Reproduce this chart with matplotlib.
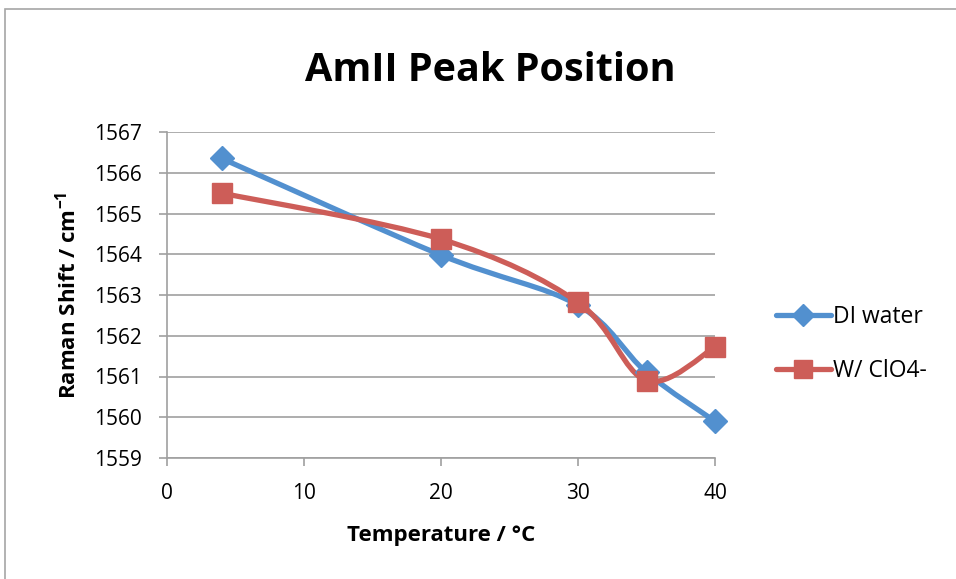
import matplotlib
matplotlib.use("Agg")
import matplotlib.pyplot as plt
import numpy as np
from matplotlib.path import Path
from matplotlib.patches import PathPatch, Rectangle
from matplotlib.lines import Line2D

plt.rcParams['font.family'] = ['Open Sans', 'DejaVu Sans']
plt.rcParams['mathtext.default'] = 'regular'

temperature = [4, 20, 30, 35, 40]
di_water = [1566.35, 1563.98, 1562.75, 1561.1, 1559.9]
clo4 = [1565.5, 1564.37, 1562.82, 1560.9, 1561.72]

x_ticks = [0, 10, 20, 30, 40]
y_ticks = [1559, 1560, 1561, 1562, 1563, 1564, 1565, 1566, 1567]

blue = '#5290CF'
red = '#CD5D58'
grid_gray = '#A0A0A0'


def smooth_path(xs, ys):
    # Excel-like smoothed line: cubic bezier with catmull-rom control points
    pts = np.column_stack((xs, ys)).astype(float)
    n = len(pts)
    verts = [pts[0]]
    codes = [Path.MOVETO]
    for i in range(n - 1):
        p0 = pts[i - 1] if i > 0 else pts[i]
        p1 = pts[i]
        p2 = pts[i + 1]
        p3 = pts[i + 2] if i + 2 < n else pts[i + 1]
        c1 = p1 + (p2 - p0) / 6.0
        c2 = p2 - (p3 - p1) / 6.0
        verts += [c1, c2, p2]
        codes += [Path.CURVE4] * 3
    return Path(verts, codes)


fig = plt.figure(figsize=(9.56, 5.79), dpi=100)
fig.patches.append(Rectangle((5 / 956, -0.1), 1.1, 1 - 9 / 579 + 0.1, transform=fig.transFigure,
                             fill=False, edgecolor='#A6A6A6', linewidth=1.2))

ax = fig.add_axes([167 / 956, 1 - 458 / 579, (715 - 167) / 956, (458 - 132) / 579])

for xs, ys, color, marker, ms, label in [
        (temperature, di_water, blue, 'D', 12, 'DI water'),
        (temperature, clo4, red, 's', 14.5, 'W/ ClO4-')]:
    ax.add_patch(PathPatch(smooth_path(xs, ys), facecolor='none', edgecolor=color,
                           linewidth=3.8, capstyle='round', joinstyle='round', zorder=3))
    ax.plot(xs, ys, linestyle='none', marker=marker, markersize=ms, color=color,
            markeredgecolor=color, zorder=4, clip_on=False)

ax.set_xlim(0, 40)
ax.set_ylim(1559, 1567)
ax.set_xticks(x_ticks)
ax.set_yticks(y_ticks)
ax.grid(axis='y', color=grid_gray, linewidth=1.2)
ax.set_axisbelow(True)
for side in ['top', 'right']:
    ax.spines[side].set_visible(False)
for side in ['left', 'bottom']:
    ax.spines[side].set_color(grid_gray)
    ax.spines[side].set_linewidth(1.2)
ax.tick_params(axis='both', colors=grid_gray, labelcolor='black', labelsize=15,
               length=6, width=1.2)
ax.tick_params(axis='x', pad=12)
ax.tick_params(axis='y', pad=12)

ax.set_xlabel('Temperature / °C', fontsize=16, fontweight='bold', labelpad=15)
ax.set_ylabel('Raman Shift / cm$^{-1}$', fontsize=16, fontweight='bold', labelpad=10)
fig.text(490 / 956, 1 - 70 / 579, 'AmII Peak Position', fontsize=28.5, fontweight='bold',
         ha='center', va='center')

handles = [Line2D([], [], color=blue, marker='D', markersize=11, linewidth=3.8, solid_capstyle='round'),
           Line2D([], [], color=red, marker='s', markersize=13.5, linewidth=3.8, solid_capstyle='round')]
fig.legend(handles, ['DI water', 'W/ ClO4-'], loc='center left',
           bbox_to_anchor=(755 / 956, 1 - 344 / 579), frameon=False, fontsize=16.5,
           handlelength=2.4, handletextpad=0.1, labelspacing=1.3)

fig.savefig('out.png', dpi=100)
